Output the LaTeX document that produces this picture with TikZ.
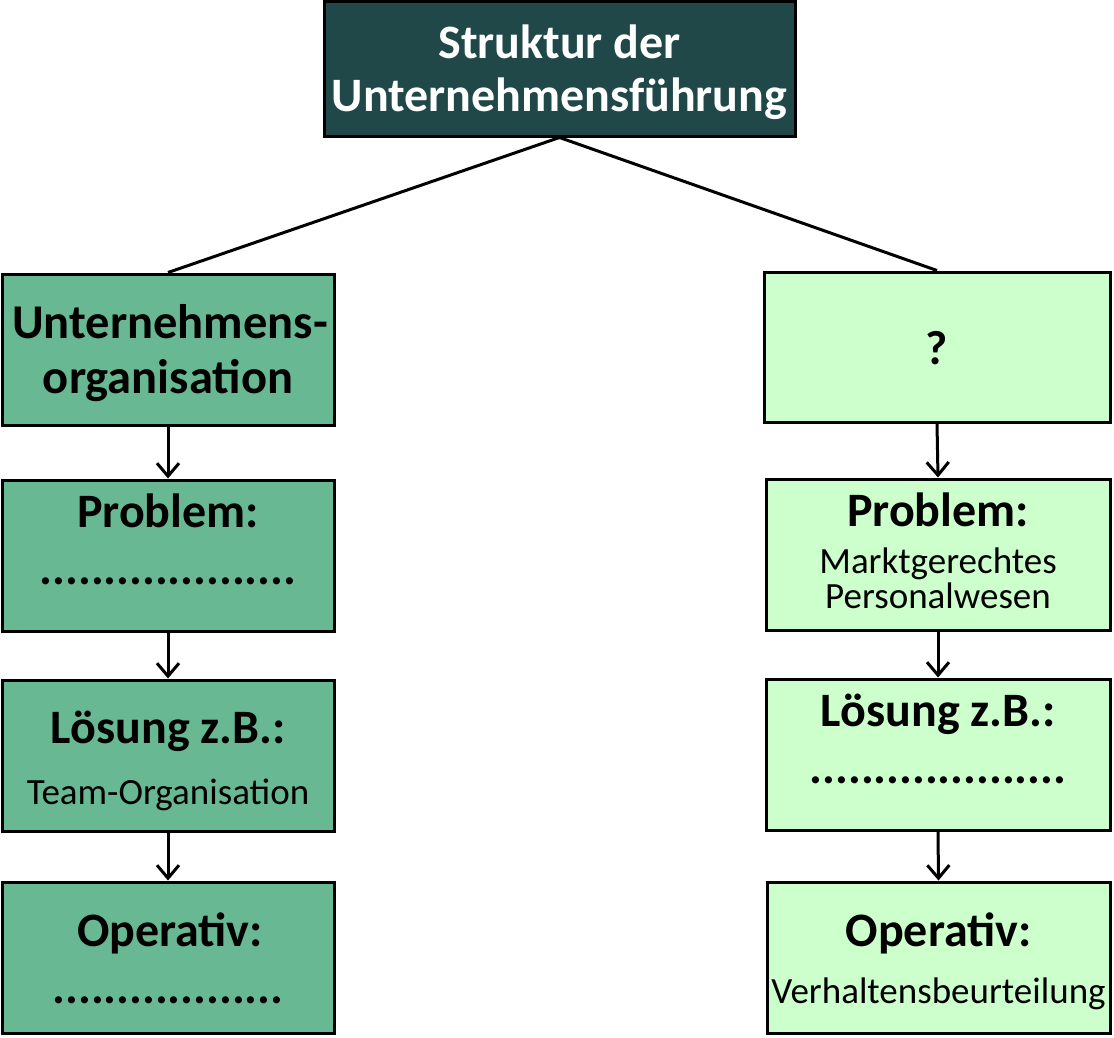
\documentclass[tikz,border=0pt]{standalone}
\usepackage{fontspec}
\setmainfont{Carlito}
\usetikzlibrary{arrows.meta}
\definecolor{topfill}{RGB}{32,72,72}
\definecolor{leftfill}{RGB}{105,184,148}
\definecolor{rightfill}{RGB}{204,255,204}
\begin{document}
\begin{tikzpicture}[x=1pt,y=-1pt,
  box/.style={draw=black,line width=3pt,inner sep=0pt},
  lbox/.style={box,fill=leftfill,minimum width=332pt,minimum height=151pt},
  rbox/.style={box,fill=rightfill,minimum width=344pt,minimum height=151pt},
  big/.style={anchor=base,inner sep=0pt,font=\fontsize{48}{56}\selectfont\bfseries},
  small/.style={anchor=base,inner sep=0pt,font=\fontsize{37}{40}\selectfont},
  conn/.style={line width=3pt},
  arr/.style={line width=3pt,-{Straight Barb[length=13pt,width=22pt,line width=3pt]}}]
\useasboundingbox (0,0) rectangle (1114,1037);
% boxes
\node[box,fill=topfill,minimum width=471pt,minimum height=135pt] (top) at (559.5,68.5) {};
\node[lbox] (l1) at (168,349.5) {};
\node[lbox] (l2) at (168,555.5) {};
\node[lbox] (l3) at (168,755.5) {};
\node[lbox] (l4) at (168,957.5) {};
\node[rbox,minimum width=346pt,minimum height=150pt] (r1) at (937,347) {};
\node[rbox] (r2) at (938,554.5) {};
\node[rbox] (r3) at (938,754.5) {};
\node[rbox,minimum width=343pt] (r4) at (938.5,957.5) {};
% texts
\node[big,text=white] (top1) at (559.5,58) {Struktur der};
\node[big,text=white] (top2) at (559.5,111) {Unternehmensführung};
\node[big,font=\fontsize{48.5}{56}\selectfont\bfseries] (l1a) at (170,338) {Unternehmens-};
\node[big,font=\fontsize{48.5}{56}\selectfont\bfseries] (l1b) at (168,393) {organisation};
\node[big] (l2a) at (168,527) {Problem:};
\node[big] (l2b) at (168,584) {....................};
\node[big] (l3a) at (168,743) {Lösung z.B.:};
\node[small] (l3b) at (168,804) {Team-Organisation};
\node[big] (l4a) at (170,946) {Operativ:};
\node[big] (l4b) at (168,1003) {..................};
\node[big] (r1a) at (937,364) {?};
\node[big] (r2a) at (938,526) {Problem:};
\node[small] (r2b) at (938,573) {Marktgerechtes};
\node[small] (r2c) at (938,608) {Personalwesen};
\node[big] (r3a) at (938,726) {Lösung z.B.:};
\node[big] (r3b) at (938,783) {....................};
\node[big] (r4a) at (938.5,946) {Operativ:};
\node[small] (r4b) at (938.5,1003) {Verhaltensbeurteilung};
% connectors
\draw[conn] (top.south) -- (l1.north);
\draw[conn] (top.south) -- (r1.north);
\draw[arr] (l1.south) -- (l2.north);
\draw[arr] (l2.south) -- (l3.north);
\draw[arr] (l3.south) -- (l4.north);
\draw[arr] (r1.south) -- (r2.north);
\draw[arr] (r2.south) -- (r3.north);
\draw[arr] (r3.south) -- (r4.north);
\end{tikzpicture}
\end{document}
